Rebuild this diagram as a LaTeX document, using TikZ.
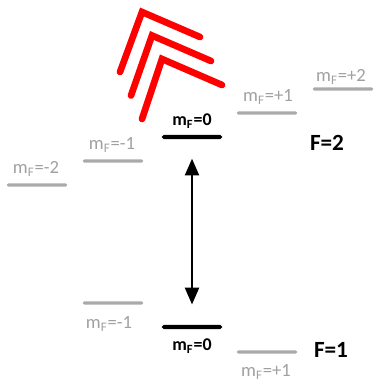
\documentclass[tikz,border=0pt]{standalone}
\usepackage{fontspec}
\setmainfont{Carlito}
\usepackage{xcolor}
\definecolor{lvgray}{RGB}{170,170,170}
\definecolor{lbgray}{RGB}{160,160,160}
\definecolor{chevred}{RGB}{255,0,0}
\usetikzlibrary{arrows.meta, positioning}

\begin{document}
\begin{tikzpicture}[x=0.02cm, y=-0.02cm,
  lvl/.style={fill=lvgray, inner sep=0pt, minimum width=34.5pt, minimum height=1.9pt, rounded corners=0.9pt},
  lvlmain/.style={fill=black, inner sep=0pt, minimum width=34.5pt, minimum height=2.3pt, rounded corners=1.1pt},
  mlab/.style={text=lbgray, inner sep=0pt, font=\fontsize{10.6}{12}\selectfont},
  mlabmain/.style={text=black, inner sep=0pt, font=\fontsize{10.2}{12}\selectfont\bfseries},
  flab/.style={inner sep=0pt, font=\fontsize{13.2}{15}\selectfont\bfseries}]

\useasboundingbox (0,0) rectangle (375,381);

% F=2 levels
\node[lvl] (u-2) at (37,185) {};
\node[lvl] (u-1) at (113,161) {};
\node[lvlmain] (u0) at (192,137) {};
\node[lvl] (u+1) at (267,113) {};
\node[lvl] (u+2) at (343,89) {};

% F=1 levels
\node[lvl] (l-1) at (113,303) {};
\node[lvlmain] (l0) at (192,327) {};
\node[lvl] (l+1) at (267,352) {};

% Sublevel labels
\node[mlab] (tu-2) at (36,169) {m\textsubscript{F}=-2};
\node[mlab] (tu-1) at (112,145) {m\textsubscript{F}=-1};
\node[mlabmain] (tu0) at (192,121) {m\textsubscript{F}=0};
\node[mlab] (tu+1) at (268,97) {m\textsubscript{F}=+1};
\node[mlab] (tu+2) at (341,77) {m\textsubscript{F}=+2};
\node[mlab] (tl-1) at (109,324) {m\textsubscript{F}=-1};
\node[mlabmain] (tl0) at (192,346) {m\textsubscript{F}=0};
\node[mlab] (tl+1) at (266,372) {m\textsubscript{F}=+1};

% Hyperfine labels
\node[flab] (f2) at (327,143) {F=2};
\node[flab] (f1) at (331,350) {F=1};

% Transition
\draw[{Triangle[length=9.5pt,width=8pt]}-{Triangle[length=9.5pt,width=8pt]}, line width=1.1pt,
      shorten <=11pt, shorten >=11.5pt] (u0) -- (l0);

% Microwave chevrons
\foreach \i in {0,1,2}
  \draw[chevred, line width=3.8pt, line cap=round, line join=miter]
    (120+11*\i,72+23.5*\i) -- (142+10*\i,12+23.5*\i) -- (200+11*\i,37+24*\i);

\end{tikzpicture}
\end{document}
